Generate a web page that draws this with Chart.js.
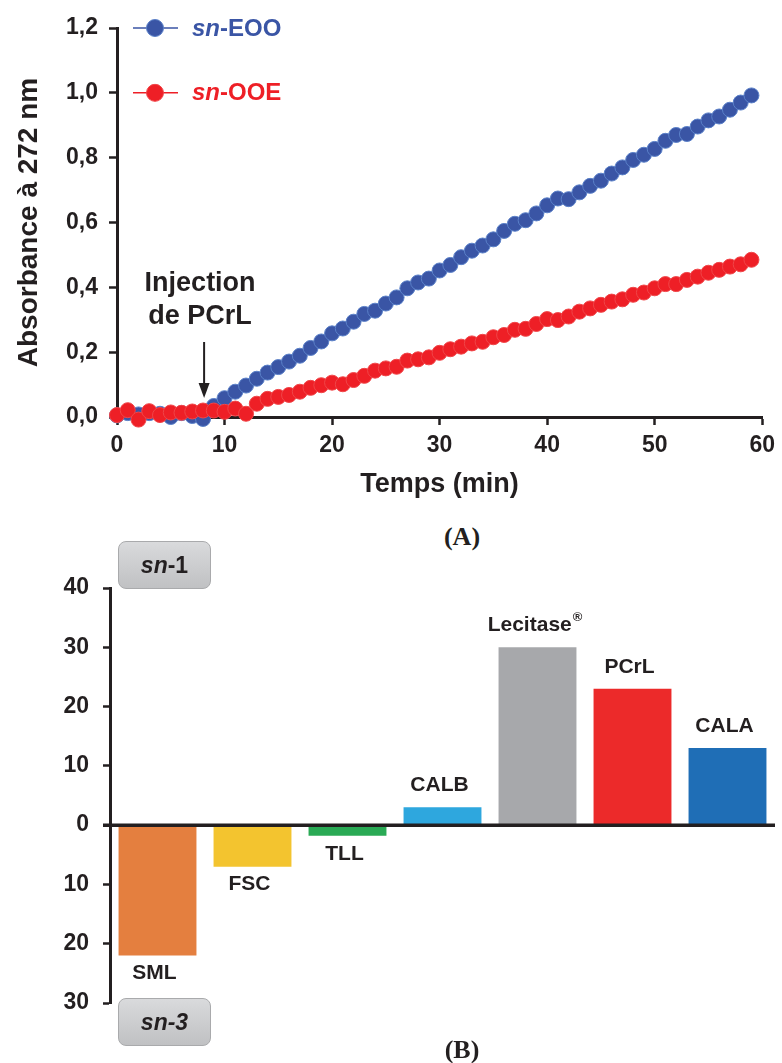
<!DOCTYPE html>
<html><head><meta charset="utf-8">
<script src="https://cdn.jsdelivr.net/npm/chart.js@4.4.0/dist/chart.umd.min.js"></script>
<style>
html,body{margin:0;padding:0;background:#fff;}
body{width:782px;height:1063px;position:relative;overflow:hidden;font-family:"Liberation Sans",Arial,sans-serif;}
#wrapA{position:absolute;left:0;top:0;width:782px;height:505px;}
#wrapB{position:absolute;left:0;top:540px;width:782px;height:523px;}
.panel{position:absolute;font-family:"Liberation Serif","Times New Roman",serif;font-weight:bold;font-size:26px;color:#231f20;line-height:30px;transform:translateX(-50%);}
.snbox{position:absolute;z-index:5;width:93px;height:48px;border:1px solid #a9aaac;border-radius:8px;background:linear-gradient(#d9dadc,#c0c1c3);box-sizing:border-box;display:flex;align-items:center;justify-content:center;font-family:"Liberation Sans",Arial,sans-serif;font-weight:bold;font-size:23px;color:#231f20;}
</style></head>
<body>
<div id="wrapA"><canvas id="cA" width="782" height="505"></canvas></div>
<div class="panel" style="left:462px;top:522px;">(A)</div>
<div id="wrapB"><canvas id="cB" width="782" height="523"></canvas></div>
<div class="snbox" style="left:118px;top:541px;"><i>sn</i>-1</div>
<div class="snbox" style="left:118px;top:998px;"><i>sn-3</i></div>
<div class="panel" style="left:462px;top:1035px;">(B)</div>
<script>
// ---------- Data (A) ----------
const minutes = [0,1,2,3,4,5,6,7,8,9,10,11,12,13,14,15,16,17,18,19,20,21,22,23,24,25,26,27,28,29,30,31,32,33,34,35,36,37,38,39,40,41,42,43,44,45,46,47,48,49,50,51,52,53,54,55,56,57,58,59];
const eooValues = [0.005,0.012,0.008,0.012,0.010,0.000,0.012,0.003,-0.006,0.034,0.058,0.078,0.097,0.118,0.137,0.154,0.171,0.189,0.213,0.233,0.258,0.273,0.294,0.318,0.328,0.350,0.369,0.397,0.415,0.427,0.452,0.469,0.493,0.513,0.529,0.548,0.574,0.596,0.607,0.628,0.653,0.674,0.672,0.693,0.713,0.729,0.751,0.770,0.793,0.809,0.827,0.852,0.870,0.873,0.896,0.915,0.927,0.948,0.970,0.992];
const ooeValues = [0.006,0.021,-0.008,0.018,0.006,0.014,0.013,0.017,0.020,0.020,0.016,0.026,0.010,0.041,0.056,0.062,0.068,0.078,0.090,0.098,0.106,0.101,0.114,0.127,0.143,0.150,0.155,0.174,0.178,0.184,0.198,0.209,0.217,0.227,0.232,0.246,0.253,0.269,0.272,0.287,0.302,0.299,0.310,0.325,0.335,0.346,0.356,0.363,0.377,0.384,0.397,0.410,0.410,0.423,0.433,0.445,0.454,0.464,0.471,0.485];
const injectionTime = 8.1;
// ---------- Data (B) ----------
const enzymes = ['SML','FSC','TLL','CALB','Lecitase','PCrL','CALA'];
const riValues = [-22, -7, -1.8, 3, 30, 23, 13];
const barColors = ['#e47f3f','#f3c42f','#2aaa55','#2ea7de','#a7a8ab','#ec2a2a','#1f6eb6'];

const INK = '#231f20';
const FONT = '"Liberation Sans", Arial, sans-serif';

// ---------- Chart A ----------
const pluginA = {
  id: 'annotA',
  afterDatasetsDraw(chart) {
    const ctx = chart.ctx, x = chart.scales.x, y = chart.scales.y, ca = chart.chartArea;
    ctx.save();
    const items = [
      {name: 'EOO', fill: '#3a55a5', stroke: '#5a80c8', val: 1.2},
      {name: 'OOE', fill: '#ee1f26', stroke: '#f04548', val: 1.0}
    ];
    items.forEach(it => {
      const py = y.getPixelForValue(it.val);
      const cx = ca.left + 38;
      ctx.strokeStyle = it.fill; ctx.lineWidth = 1.5;
      ctx.beginPath(); ctx.moveTo(ca.left + 16, py); ctx.lineTo(ca.left + 61, py); ctx.stroke();
      ctx.fillStyle = it.fill; ctx.strokeStyle = it.stroke; ctx.lineWidth = 1;
      ctx.beginPath(); ctx.arc(cx, py, 8.5, 0, Math.PI * 2); ctx.fill(); ctx.stroke();
      ctx.textBaseline = 'middle'; ctx.textAlign = 'left';
      let tx = ca.left + 75;
      ctx.font = 'italic bold 24px ' + FONT;
      ctx.fillText('sn', tx, py + 1);
      tx += ctx.measureText('sn').width;
      ctx.font = 'bold 24px ' + FONT;
      ctx.fillText('-' + it.name, tx, py + 1);
    });
    const ax = x.getPixelForValue(injectionTime);
    ctx.fillStyle = INK; ctx.textAlign = 'center'; ctx.textBaseline = 'middle';
    ctx.font = 'bold 27px ' + FONT;
    ctx.fillText('Injection', ax - 4, 284);
    ctx.fillText('de PCrL', ax - 4, 317);
    ctx.strokeStyle = INK; ctx.lineWidth = 2;
    ctx.beginPath(); ctx.moveTo(ax, 342); ctx.lineTo(ax, 386); ctx.stroke();
    ctx.beginPath(); ctx.moveTo(ax - 5.5, 383); ctx.lineTo(ax + 5.5, 383); ctx.lineTo(ax, 398); ctx.closePath(); ctx.fill();
    ctx.restore();
  }
};

new Chart(document.getElementById('cA'), {
  type: 'scatter',
  data: {
    datasets: [
      {label: 'sn-EOO', data: minutes.map((m, i) => ({x: m, y: eooValues[i]})), backgroundColor: '#3a55a5', borderColor: '#5a80c8', borderWidth: 1, pointRadius: 7.5, showLine: false, clip: false, order: 2},
      {label: 'sn-OOE', data: minutes.map((m, i) => ({x: m, y: ooeValues[i]})), backgroundColor: '#ee1f26', borderColor: '#f04548', borderWidth: 1, pointRadius: 7.5, showLine: false, clip: false, order: 1}
    ]
  },
  options: {
    responsive: false, animation: false,
    layout: {padding: {top: 28, right: 15, bottom: 0, left: 0}},
    plugins: {legend: {display: false}, tooltip: {enabled: false}},
    scales: {
      x: {
        type: 'linear', min: 0, max: 60,
        afterFit: s => { s.height = 88; },
        ticks: {stepSize: 10, font: {family: FONT, size: 23, weight: 'bold'}, color: INK, padding: 7, maxRotation: 0},
        grid: {drawOnChartArea: false, tickLength: 8, tickColor: INK, tickWidth: 2.5},
        border: {display: true, color: INK, width: 3},
        title: {display: true, text: 'Temps (min)', font: {family: FONT, size: 27, weight: 'bold'}, color: INK, padding: {top: 0, bottom: 4}}
      },
      y: {
        min: 0, max: 1.2,
        afterFit: s => { s.width = 117; },
        ticks: {stepSize: 0.2, font: {family: FONT, size: 23, weight: 'bold'}, color: INK, padding: 11,
          callback: v => v.toFixed(1).replace('.', ',')},
        grid: {drawOnChartArea: false, tickLength: 8, tickColor: INK, tickWidth: 2.5},
        border: {display: true, color: INK, width: 3},
        title: {display: true, text: 'Absorbance à 272 nm', font: {family: FONT, size: 28, weight: 'bold'}, color: INK, padding: {top: 12, bottom: 0}}
      }
    }
  },
  plugins: [pluginA]
});

// ---------- Chart B ----------
const pluginB = {
  id: 'annotB',
  afterDatasetsDraw(chart) {
    const ctx = chart.ctx, y = chart.scales.y, ca = chart.chartArea;
    const meta = chart.getDatasetMeta(0);
    ctx.save();
    const y0 = y.getPixelForValue(0);
    ctx.strokeStyle = INK; ctx.lineWidth = 3.5;
    ctx.beginPath(); ctx.moveTo(ca.left - 7, y0); ctx.lineTo(ca.right, y0); ctx.stroke();
    ctx.fillStyle = INK; ctx.textBaseline = 'middle'; ctx.textAlign = 'center';
    ctx.font = 'bold 21px ' + FONT;
    meta.data.forEach((bar, i) => {
      const v = riValues[i];
      const ly = v >= 0 ? bar.y - 22 : bar.y + 18;
      const lx = bar.x - 3;
      if (enzymes[i] === 'Lecitase') {
        const w = ctx.measureText('Lecitase').width;
        ctx.font = 'bold 13px ' + FONT;
        const w2 = ctx.measureText('®').width;
        ctx.font = 'bold 21px ' + FONT;
        ctx.textAlign = 'left';
        const sx = lx - (w + w2) / 2;
        ctx.fillText('Lecitase', sx, ly);
        ctx.font = 'bold 13px ' + FONT;
        ctx.fillText('®', sx + w + 1, ly - 8);
        ctx.font = 'bold 21px ' + FONT;
        ctx.textAlign = 'center';
      } else {
        ctx.fillText(enzymes[i], lx, ly);
      }
    });
    ctx.translate(26, 780);
    ctx.rotate(-Math.PI / 2);
    ctx.font = 'bold 26px ' + FONT;
    ctx.fillText('RI (%)', 0, 0);
    ctx.restore();
  }
};

new Chart(document.getElementById('cB'), {
  type: 'bar',
  data: {
    labels: enzymes,
    datasets: [{data: riValues, backgroundColor: barColors, borderWidth: 0, barPercentage: 0.82, categoryPercentage: 1}]
  },
  options: {
    responsive: false, animation: false,
    layout: {padding: {top: 48, right: 7, bottom: 60, left: 0}},
    plugins: {legend: {display: false}, tooltip: {enabled: false}},
    scales: {
      x: {display: false},
      y: {
        min: -30, max: 40,
        afterFit: s => { s.width = 110; },
        ticks: {stepSize: 10, font: {family: FONT, size: 23, weight: 'bold'}, color: INK, padding: 14,
          callback: v => String(Math.abs(v))},
        grid: {drawOnChartArea: false, tickLength: 7, tickColor: INK, tickWidth: 2.5},
        border: {display: true, color: INK, width: 3}
      }
    }
  },
  plugins: [pluginB]
});
</script>
</body></html>
